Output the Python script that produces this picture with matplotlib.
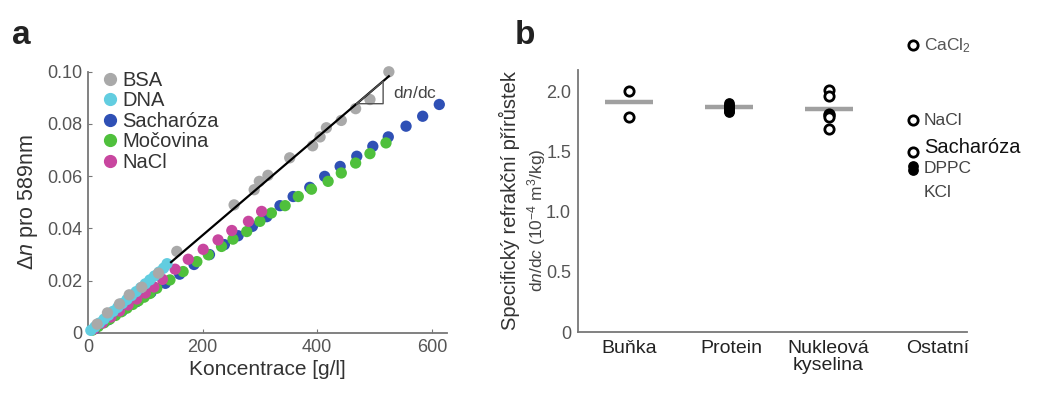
import numpy as np
import matplotlib.pyplot as plt
from matplotlib.lines import Line2D

plt.rcParams['font.family'] = ['Liberation Sans', 'DejaVu Sans']
plt.rcParams['mathtext.fontset'] = 'custom'
plt.rcParams['mathtext.rm'] = 'Liberation Sans'
plt.rcParams['mathtext.it'] = 'Liberation Sans:italic'

# ---- panel a data: refractive index change vs concentration ----
bsa_x = [16, 34, 55, 72, 94, 123, 155, 255, 290, 299, 314, 352, 392, 405, 416, 442, 467, 492, 525]
bsa_y = [0.0034, 0.0077, 0.0111, 0.0146, 0.0175, 0.0229, 0.0312, 0.049, 0.0548, 0.058, 0.0603,
         0.067, 0.0716, 0.075, 0.0785, 0.0813, 0.0858, 0.0893, 0.0999]
dna_x = [5, 12, 20, 28, 36, 44, 52, 60, 68, 76, 84, 92, 100, 108, 116, 124, 132, 138]
dna_y = [0.0010, 0.0023, 0.0038, 0.0053, 0.0068, 0.0083, 0.0098, 0.0113, 0.0128, 0.0143,
         0.0158, 0.0173, 0.0188, 0.0203, 0.0218, 0.0233, 0.0248, 0.0265]
sach_x = [12, 35, 60, 85, 110, 135, 160, 185, 212, 238, 262, 287, 312, 335, 358, 387,
          413, 440, 469, 497, 524, 555, 584, 613]
sach_y = [0.0017, 0.0050, 0.0085, 0.0120, 0.0155, 0.0190, 0.0225, 0.0262, 0.0300, 0.0338,
          0.0372, 0.0408, 0.0445, 0.0487, 0.0522, 0.0557, 0.0599, 0.0637, 0.0676, 0.0714,
          0.0750, 0.0791, 0.0829, 0.0874]
urea_x = [8, 18, 28, 38, 48, 58, 68, 78, 88, 98, 108, 120, 143, 166, 190, 210, 233, 253,
          277, 300, 320, 344, 367, 390, 419, 442, 467, 492, 520]
urea_y = [0.0011, 0.0025, 0.0039, 0.0053, 0.0067, 0.0081, 0.0095, 0.0109, 0.0123, 0.0137,
          0.0151, 0.0171, 0.0203, 0.0235, 0.0273, 0.0299, 0.0331, 0.0359, 0.0388, 0.0427,
          0.0459, 0.0487, 0.0522, 0.055, 0.058, 0.0612, 0.065, 0.0686, 0.0727]
nacl_x = [10, 25, 40, 55, 70, 85, 100, 115, 130, 152, 175, 201, 227, 251, 280, 303]
nacl_y = [0.0015, 0.0038, 0.0061, 0.0084, 0.0107, 0.0130, 0.0153, 0.0176, 0.0205, 0.0244,
          0.0282, 0.032, 0.0356, 0.0392, 0.0427, 0.0465]
fit_x = [145, 525]
fit_y = [0.0271, 0.0982]
tri_x = [469, 515, 515]
tri_y = [0.0877, 0.0877, 0.0963]

# ---- panel b data: specific refractive increment ----
categories = ['Buňka', 'Protein', 'Nukleová\nkyselina', 'Ostatní']
cell_vals = [2.0, 1.79]
protein_vals = [1.83, 1.84, 1.85, 1.86, 1.87, 1.88, 1.89, 1.90]
nucleic_vals = [2.01, 1.96, 1.81, 1.80, 1.79, 1.69]
means = [1.91, 1.87, 1.85]
other_names = ['CaCl$_2$', 'NaCl', 'Sacharóza', 'DPPC', 'KCl']
other_vals = [2.39, 1.76, 1.50]
other_filled = [1.38, 1.35]

fig = plt.figure(figsize=(10.46, 4.01), dpi=100)

# ================= panel a =================
ax = fig.add_axes([0.0841, 0.1696, 0.343, 0.652])
series = [
    (sach_x, sach_y, '#2f50b5', 'Sacharóza'),
    (urea_x, urea_y, '#4fc03c', 'Močovina'),
    (nacl_x, nacl_y, '#c8469f', 'NaCl'),
    (dna_x, dna_y, '#62cde0', 'DNA'),
    (bsa_x, bsa_y, '#a9a9a9', 'BSA'),
]
for xs, ys, c, lab in series:
    ax.scatter(xs, ys, s=66, color=c, edgecolors='none', clip_on=False, zorder=3)
ax.plot(fit_x, fit_y, color='black', lw=1.6, zorder=4)
ax.plot(tri_x + [tri_x[0]], tri_y + [tri_y[0]], color='#555555', lw=1.0, zorder=4)
ax.text(532, 0.0918, 'd$\\mathit{n}$/dc', fontsize=12.5, color='#444444', va='center')

ax.set_xlim(0, 626)
ax.set_ylim(0, 0.1)
ax.set_xticks([0, 200, 400, 600])
ax.set_yticks([0, 0.02, 0.04, 0.06, 0.08, 0.10])
ax.set_yticklabels(['0', '0.02', '0.04', '0.06', '0.08', '0.10'])
ax.tick_params(direction='in', length=3, colors='#777777', labelcolor='#555555',
               labelsize=13, pad=4)
for s in ['top', 'right']:
    ax.spines[s].set_visible(False)
for s in ['left', 'bottom']:
    ax.spines[s].set_color('#777777')
    ax.spines[s].set_linewidth(1.3)
ax.set_xlabel('Koncentrace [g/l]', fontsize=15, color='#333333', labelpad=3)
ax.set_ylabel('$\\mathit{\\Delta n}$ pro 589nm', fontsize=15.5, color='#333333', labelpad=5)

handles = [Line2D([], [], marker='o', ls='none', color=c, markersize=8.5)
           for c in ['#a9a9a9', '#62cde0', '#2f50b5', '#4fc03c', '#c8469f']]
ax.legend(handles, ['BSA', 'DNA', 'Sacharóza', 'Močovina', 'NaCl'], loc='upper left',
          bbox_to_anchor=(0.0, 1.05), frameon=False, fontsize=14.5, handletextpad=0.1,
          labelspacing=0.08, borderaxespad=0.2, handlelength=1.0, labelcolor='#333333')

fig.text(0.011, 0.89, 'a', fontsize=24, fontweight='bold', color='#222222')

# ================= panel b =================
bx = fig.add_axes([0.5526, 0.172, 0.372, 0.654])
pos = [1, 2, 3]
for p, m in zip(pos, means):
    bx.plot([p - 0.24, p + 0.24], [m, m], color='#a0a0a0', lw=3.2, solid_capstyle='butt', zorder=2)
open_kw = dict(s=45, facecolors='white', edgecolors='black', linewidths=2.0, zorder=3, clip_on=False)
bx.scatter([1] * len(cell_vals), cell_vals, **open_kw)
bx.scatter([2] * len(protein_vals), protein_vals, s=45, color='black', zorder=3)
bx.scatter([3] * len(nucleic_vals), nucleic_vals, **open_kw)
bx.scatter([3.84] * len(other_vals), other_vals, **open_kw)
bx.scatter([3.84] * len(other_filled), other_filled, s=45, color='black', zorder=3)

label_y = [2.38, 1.76, 1.53, 1.36, 1.16]
label_size = [12.5, 12.5, 14.5, 12.5, 12.5]
label_col = ['#555555', '#444444', '#111111', '#444444', '#444444']
for name, ly, fs, c in zip(other_names, label_y, label_size, label_col):
    bx.text(3.95, ly, name, fontsize=fs, color=c, va='center', clip_on=False)

bx.set_xlim(0.49, 4.38)
bx.set_ylim(0, 2.18)
bx.set_xticks([1, 2.02, 2.99, 4.09])
bx.set_xticklabels(categories, fontsize=14, color='#222222', linespacing=1.0)
bx.set_yticks([0, 0.5, 1.0, 1.5, 2.0])
bx.set_yticklabels(['0', '0.5', '1.0', '1.5', '2.0'])
bx.tick_params(axis='y', length=0, labelcolor='#555555', labelsize=13, pad=5)
bx.tick_params(axis='x', length=0, pad=6)
for s in ['top', 'right']:
    bx.spines[s].set_visible(False)
for s in ['left', 'bottom']:
    bx.spines[s].set_color('#777777')
    bx.spines[s].set_linewidth(1.3)

fig.text(0.4875, 0.50, 'Specifický refrakční přírůstek', rotation=90, fontsize=14.5,
         color='#333333', ha='center', va='center')
fig.text(0.5125, 0.45, 'd$\\mathit{n}$/d$\\mathit{c}$ (10$^{-4}$ m$^3$/kg)', rotation=90,
         fontsize=12.5, color='#444444', ha='center', va='center')
fig.text(0.492, 0.89, 'b', fontsize=24, fontweight='bold', color='#222222')

fig.savefig('out.png', dpi=100)
